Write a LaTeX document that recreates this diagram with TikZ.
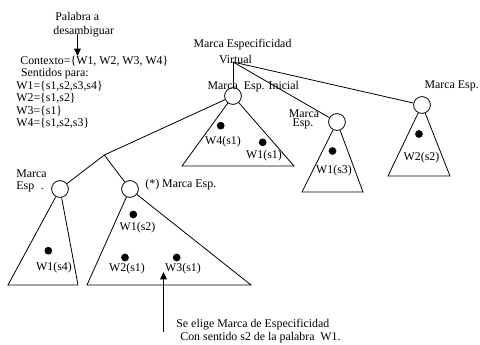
\documentclass[tikz,border=0pt]{standalone}
\usepackage{fontspec}
\setmainfont{Liberation Serif}
\usetikzlibrary{arrows.meta}
\begin{document}
\begin{tikzpicture}[x=0.75pt,y=-0.75pt,font=\fontsize{8.9}{10}\selectfont,line width=0.6pt]
  \path[use as bounding box] (0,0) rectangle (480,345);
  \fill[white] (0,0) rectangle (480,345);

  \tikzset{lbl/.style={inner sep=0pt},
    espnode/.style={circle,draw,fill=white,minimum size=12.6pt,inner sep=0pt},
    dot/.style={circle,fill=black,minimum size=5.8pt,inner sep=0pt},
    arrow/.style={-{Triangle[length=5.5pt,width=5pt]},line width=0.6pt}}

  \node[lbl,anchor=west] (palabra) at (55,16.7) {Palabra a};
  \node[lbl,anchor=west] (desamb) at (53,31.7) {desambiguar};
  \node[lbl,anchor=west] (contexto) at (20,61) {Contexto=\{W1, W2, W3, W4\}};
  \node[lbl,anchor=west] (sentidos) at (20.7,73.7) {Sentidos para:};
  \node[lbl,anchor=west] (senw1) at (16,86.2) {W1=\{s1,s2,s3,s4\}};
  \node[lbl,anchor=west] (senw2) at (16,98.7) {W2=\{s1,s2\}};
  \node[lbl,anchor=west] (senw3) at (16,111.2) {W3=\{s1\}};
  \node[lbl,anchor=west] (senw4) at (16,123.7) {W4=\{s1,s2,s3\}};
  \coordinate (pickA) at (77.5,34);
  \coordinate (pickB) at (77.5,56);
  \draw[arrow] (pickA) -- (pickB);

  \node[lbl] (virtA) at (242.5,45) {Marca Especificidad};
  \node[lbl] (virtB) at (235.5,59) {Virtual};
  \coordinate (virt) at (233,62);
  \coordinate (branch) at (104.3,155);

  \node[espnode] (ini) at (233,96) {};
  \node[espnode] (mid) at (337,122) {};
  \node[espnode] (rgt) at (422,105) {};
  \node[espnode] (lft) at (60,189) {};
  \node[espnode] (star) at (130,189) {};

  \node[lbl] (ininame) at (253.3,87) {Marca\ \ Esp. Inicial};
  \node[lbl] (midA) at (304,113.3) {Marca};
  \node[lbl] (midB) at (303,124.3) {Esp.};
  \node[lbl] (rgtname) at (451.7,86) {Marca Esp.};
  \node[lbl,anchor=west] (lftA) at (16,173.3) {Marca};
  \node[lbl,anchor=west] (lftB) at (16,186.7) {Esp\hspace{5pt}.};
  \node[lbl,anchor=west] (starname) at (145,185) {(*) Marca Esp.};

  \draw (virt) -- (ini);
  \draw (virt) -- (mid);
  \draw (virt) -- (rgt);
  \draw (ini) -- (branch);
  \draw (branch) -- (lft);
  \draw (branch) -- (star);

  \draw (ini) -- ++(-51,70) -- ++(112,0) -- (ini);
  \draw (mid) -- ++(-35,70) -- ++(61,0) -- (mid);
  \draw (rgt) -- ++(-34,71) -- ++(62,0) -- (rgt);
  \draw (lft) -- ++(-52,96) -- ++(70,0) -- (lft);
  \draw (star) -- ++(-43,96) -- ++(164,0) -- (star);

  \node[dot] (d1) at (220.7,125.7) {};
  \node[dot] (d2) at (262.7,142.3) {};
  \node[dot] (d3) at (332.5,151) {};
  \node[dot] (d4) at (419,134) {};
  \node[dot] (d5) at (48.3,250.7) {};
  \node[dot] (d6) at (133.3,214.5) {};
  \node[dot] (d7) at (125,257.5) {};
  \node[dot] (d8) at (176.7,257.5) {};
  \node[lbl] (w4a) at (223,142) {W4(s1)};
  \node[lbl] (w1a) at (264,156) {W1(s1)};
  \node[lbl] (w1c) at (334,171) {W1(s3)};
  \node[lbl] (w2b) at (421.5,158) {W2(s2)};
  \node[lbl] (w1d) at (54,268) {W1(s4)};
  \node[lbl] (w1b) at (137.5,227.5) {W1(s2)};
  \node[lbl] (w2a) at (127,268.3) {W2(s1)};
  \node[lbl] (w3a) at (183,268.3) {W3(s1)};

  \coordinate (chosenA) at (163.5,332);
  \coordinate (chosenB) at (163.5,272);
  \draw[arrow] (chosenA) -- (chosenB);
  \node[lbl,anchor=west] (eligeA) at (176,325) {Se elige Marca de Especificidad};
  \node[lbl,anchor=west] (eligeB) at (180,338) {Con sentido s2 de la palabra\ \ W1.};
\end{tikzpicture}
\end{document}
